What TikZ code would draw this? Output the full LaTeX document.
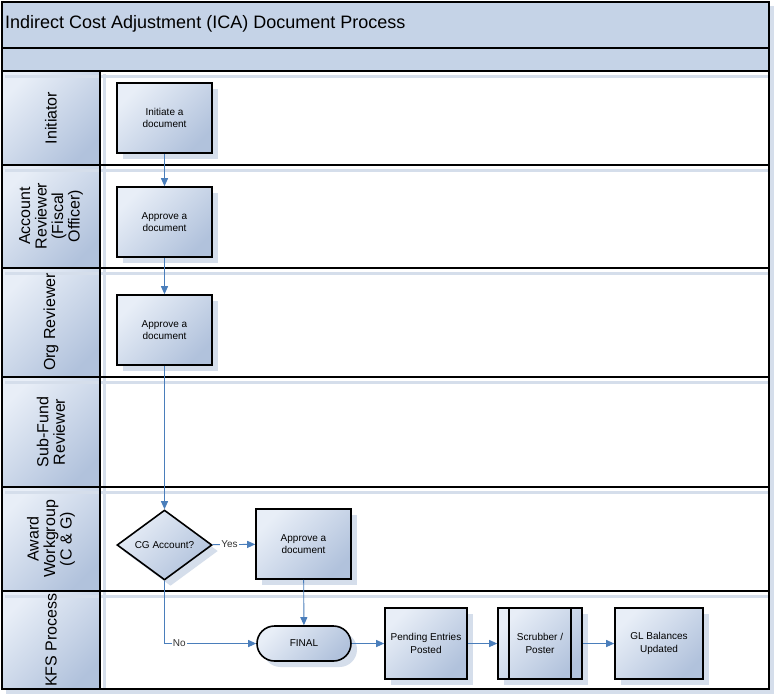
\documentclass[tikz,border=0pt]{standalone}
\usepackage{fontspec}
\setmainfont{Liberation Sans}
\usetikzlibrary{arrows.meta,shapes.geometric,shapes.misc,shadows,positioning}

\definecolor{bandc}{HTML}{C5D3E7}
\definecolor{lightc}{HTML}{E8EEF7}
\definecolor{darkc}{HTML}{B1C2DC}
\definecolor{shadowc}{HTML}{D5DEEB}
\definecolor{flowc}{HTML}{4A7EBB}

\tikzset{
  headshade/.style={top color=lightc, bottom color=darkc, shading angle=45},
  lanelabel/.style={rotate=90, align=center, font=\fontsize{16}{16.5}\selectfont},
  procbox/.style={draw=black, line width=1.6pt, minimum width=95pt, minimum height=70pt,
    top color=lightc, bottom color=darkc, shading angle=45, inner sep=0pt,
    drop shadow={shadow xshift=6pt, shadow yshift=-6pt, fill=shadowc, opacity=1},
    align=center, font=\fontsize{10}{12.5}\selectfont},
  decision/.style={procbox, diamond, aspect=1.36},
  term/.style={procbox, rounded rectangle, minimum width=94pt, minimum height=35pt},
  flow/.style={flowc, line width=0.9pt, -{Triangle[length=8pt,width=7pt]}},
  flowlabel/.style={fill=white, inner sep=1pt, text=black!80, font=\fontsize{10}{11}\selectfont}
}

\begin{document}
\begin{tikzpicture}[x=1pt,y=-1pt]
\useasboundingbox (0,0) rectangle (776,697);
% frame and its shadow
\fill[shadowc] (6,6) rectangle (774,694);
\fill[white] (2,2) rectangle (769,689);
\fill[bandc] (2,2) rectangle (769,71);

% lane headers
\foreach \t/\b in {71/165,165/268,268/377,377/487,487/591,591/689}
  \shade[headshade] (2,\t) rectangle (100,\b);
\foreach \y in {71,165,268,377,487,591}
  \draw[shadowc, line width=3pt] (5,{\y+5}) -- (769,{\y+5});
\draw[shadowc, line width=3pt] (104,74) -- (104,689);

% lines
\draw[line width=1.8pt] (2,2) rectangle (769,689);
\draw[line width=1.8pt] (2,48) -- (769,48) (2,71) -- (769,71) (100,71) -- (100,689);
\foreach \y in {165,268,377,487,591}
  \draw[line width=1.8pt] (2,\y) -- (769,\y);

\node[anchor=west, inner sep=0pt, font=\fontsize{18}{20}\selectfont] (title) at (5,24)
  {Indirect Cost Adjustment (ICA) Document Process};

\node[lanelabel] (hInit) at (51,118) {Initiator};
\node[lanelabel] (hAcct) at (51,216) {Account\\Reviewer\\(Fiscal\\Officer)};
\node[lanelabel] (hOrg) at (51,322) {Org Reviewer};
\node[lanelabel] (hSub) at (51,432) {Sub-Fund\\Reviewer};
\node[lanelabel] (hAward) at (51,539) {Award\\Workgroup\\(C \& G)};
\node[lanelabel] (hKfs) at (51,640) {KFS Process};

% steps
\node[procbox] (init) at (164.5,118) {Initiate a\\document};
\node[procbox] (acct) at (164.5,222) {Approve a\\document};
\node[procbox] (org) at (164.5,330) {Approve a\\document};
\node[decision] (cg) at (164.5,545) {CG Account?};
\node[procbox] (award) at (303.5,544) {Approve a\\document};
\node[term] (final) at (304,643.5) {FINAL};
\node[procbox, minimum width=82pt, minimum height=71pt] (pend) at (426,643.5) {Pending Entries\\Posted};
\node[procbox, minimum width=84pt, minimum height=71pt] (scrub) at (540,643.5) {Scrubber /\\Poster};
\draw[line width=1.6pt] ([xshift=12pt]scrub.north west) -- ([xshift=12pt]scrub.south west)
  ([xshift=-12pt]scrub.north east) -- ([xshift=-12pt]scrub.south east);
\node[procbox, minimum width=88pt, minimum height=71pt] (gl) at (659,643.5) {GL Balances\\Updated};

% flow
\draw[flow] (init) -- (acct);
\draw[flow] (acct) -- (org);
\draw[flow] (org) -- (cg);
\draw[flow] (cg) -- node[flowlabel, pos=0.4] {Yes} (award);
\draw[flow] (cg.south) |- node[flowlabel, pos=0.58] {No} (final.west);
\draw[flow] (award) -- (final);
\draw[flow] (final) -- (pend);
\draw[flow] (pend) -- (scrub);
\draw[flow] (scrub) -- (gl);
\end{tikzpicture}
\end{document}
